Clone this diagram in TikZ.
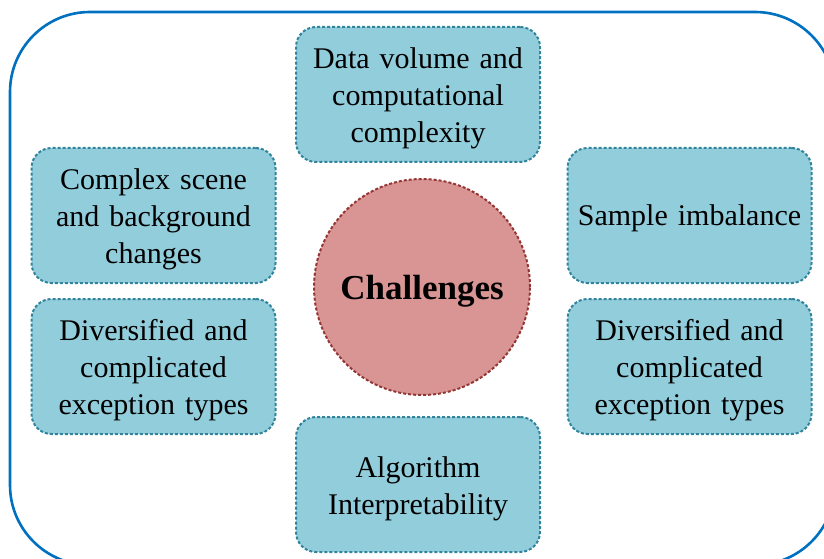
\documentclass[tikz,border=0pt]{standalone}
\usepackage{fontspec}
\setmainfont{Liberation Serif}
\definecolor{framblue}{HTML}{0070C0}
\definecolor{boxfill}{HTML}{92CDDC}
\definecolor{boxline}{HTML}{31849B}
\definecolor{hubfill}{HTML}{D99594}
\definecolor{hubline}{HTML}{943634}
\tikzset{
    itembox/.style={draw=boxline, fill=boxfill, line width=2pt, dash pattern=on 3pt off 2pt,
        rounded corners=20pt, minimum width=244pt, minimum height=135pt, text width=236pt,
        align=center, inner sep=0pt, font=\fontsize{30}{37}\selectfont,
        execute at end node={\par\vspace{-8pt}}},
    hub/.style={circle, draw=hubline, fill=hubfill, line width=2pt, dash pattern=on 3pt off 2pt,
        minimum size=216pt, inner sep=0pt, text height=32pt, text depth=8pt,
        font=\fontsize{35}{40}\selectfont\bfseries}
}
\begin{document}
\begin{tikzpicture}[x=1pt,y=1pt]
    \useasboundingbox (0,0) rectangle (824,558);
    \clip (0,0) rectangle (824,558);
    % Outer frame
    \draw[framblue, line width=2.6pt, rounded corners=80pt] (10,-7) rectangle (835,546);
    % Centre
    \node[hub] (hub) at (422,271) {Challenges};
    % Surrounding items
    \node[itembox] (volume) at (418,463.5) {Data volume and\\computational\\complexity};
    \node[itembox] (scene) at (153.5,342.5) {Complex scene\\and background\\changes};
    \node[itembox] (typesl) at (153.5,191.5) {Diversified and\\complicated\\exception types};
    \node[itembox] (imbalance) at (689.5,342.5) {Sample imbalance};
    \node[itembox] (typesr) at (689.5,191.5) {Diversified and\\complicated\\exception types};
    \node[itembox] (interp) at (418,73.5) {Algorithm\\Interpretability};
\end{tikzpicture}
\end{document}
